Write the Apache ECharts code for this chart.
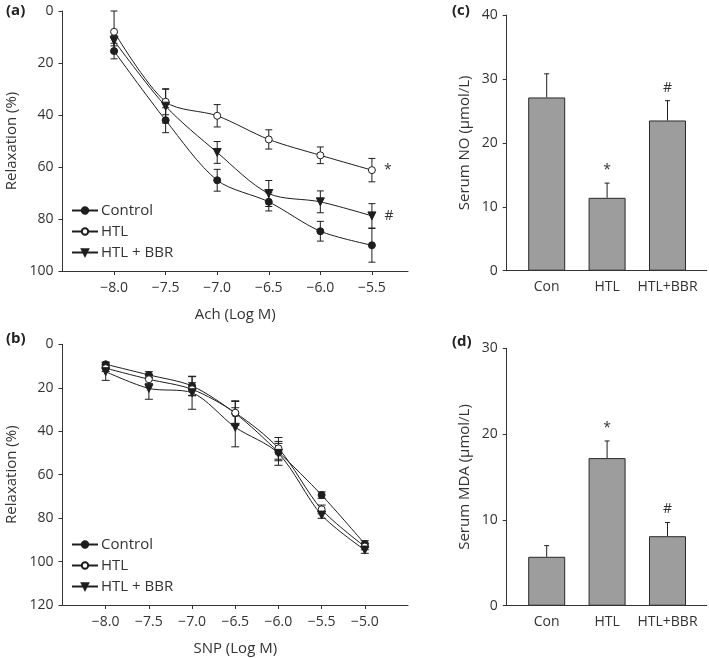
<!DOCTYPE html>
<html><head><meta charset="utf-8">
<script src="https://cdn.jsdelivr.net/npm/echarts@6/dist/echarts.min.js"></script>
<style>html,body{margin:0;padding:0;background:#fff}#c{width:709px;height:658px}</style>
</head><body><div id="c"></div>
<script>
// ---- Data ----
const seriesNames = ['Control', 'HTL', 'HTL + BBR'];

const achDoses = [-8.0, -7.5, -7.0, -6.5, -6.0, -5.5];
const achControl = [15.4, 42.0, 65.1, 73.4, 84.7, 90.1];
const achControlErr = [3.0, 4.8, 4.2, 3.5, 3.8, 6.5];
const achHTL = [8.0, 34.9, 40.3, 49.4, 55.5, 61.2];
const achHTLErr = [8.0, 5.0, 4.3, 3.7, 3.2, 4.5];
const achBBR = [11.4, 36.6, 54.4, 70.2, 73.4, 78.8];
const achBBRErr = [2.0, 6.5, 4.2, 5.0, 4.2, 4.7];
const achEndMarks = ['', '*', '#'];

const snpDoses = [-8.0, -7.5, -7.0, -6.5, -6.0, -5.5, -5.0];
const snpControl = [9.2, 14.1, 19.2, 31.8, 49.6, 69.4, 91.9];
const snpControlErr = [1.0, 1.5, 4.3, 5.5, 4.0, 1.5, 1.5];
const snpHTL = [11.0, 16.1, 20.7, 31.5, 47.9, 76.0, 93.1];
const snpHTLErr = [1.5, 2.0, 3.0, 5.5, 5.0, 2.0, 1.5];
const snpBBR = [12.6, 20.3, 22.3, 38.2, 50.2, 78.6, 94.7];
const snpBBRErr = [4.0, 5.0, 7.6, 9.0, 5.5, 1.5, 1.5];

const groups = ['Con', 'HTL', 'HTL+BBR'];
const noValues = [27.1, 11.4, 23.5];
const noErr = [3.7, 2.3, 3.1];
const noMarks = ['', '*', '#'];
const mdaValues = [5.7, 17.2, 8.1];
const mdaErr = [1.3, 2.0, 1.6];
const mdaMarks = ['', '*', '#'];

// ---- Style ----
const FONT = 'Open Sans';
const TXT = '#333';
const INK = '#1e1e1e';

function fmtDose(v) { return (v < 0 ? '\u2212' : '') + Math.abs(v).toFixed(1); }

const symbolStyles = [
  { symbol: 'circle', symbolSize: 7, itemStyle: { color: INK, borderColor: INK, borderWidth: 1 } },
  { symbol: 'circle', symbolSize: 7, itemStyle: { color: '#fff', borderColor: INK, borderWidth: 1 } },
  { symbol: 'triangle', symbolSize: 8, symbolRotate: 180, itemStyle: { color: INK, borderColor: INK, borderWidth: 1 } }
];

function lineSeries(idx, gi, xs, ys, mark) {
  const s = symbolStyles[idx];
  return Object.assign({
    type: 'line', name: seriesNames[idx], xAxisIndex: gi, yAxisIndex: gi,
    smooth: 0.3, z: 3, animation: false,
    lineStyle: { color: INK, width: 1 },
    data: xs.map((x, i) => {
      const d = { value: [x, ys[i]] };
      if (i === xs.length - 1 && mark) {
        d.label = { show: true, formatter: mark, position: 'right', distance: 8,
          color: TXT, fontSize: 14, fontFamily: FONT };
      }
      return d;
    })
  }, s);
}

function errSeries(gi, xs, ys, es, capHalf) {
  return {
    type: 'custom', xAxisIndex: gi, yAxisIndex: gi, silent: true, z: 2, animation: false,
    data: xs.map((x, i) => [x, ys[i] - es[i], ys[i] + es[i]]),
    encode: { x: 0, y: [1, 2] },
    renderItem(params, api) {
      const lo = api.coord([api.value(0), api.value(1)]);
      const hi = api.coord([api.value(0), api.value(2)]);
      const st = { stroke: INK, lineWidth: 1 };
      return { type: 'group', children: [
        { type: 'line', shape: { x1: lo[0], y1: lo[1], x2: hi[0], y2: hi[1] }, style: st },
        { type: 'line', shape: { x1: lo[0] - capHalf, y1: lo[1], x2: lo[0] + capHalf, y2: lo[1] }, style: st },
        { type: 'line', shape: { x1: hi[0] - capHalf, y1: hi[1], x2: hi[0] + capHalf, y2: hi[1] }, style: st }
      ]};
    }
  };
}

function barSeries(gi, vals) {
  return {
    type: 'bar', xAxisIndex: gi, yAxisIndex: gi, barWidth: 37, z: 2, animation: false,
    itemStyle: { color: '#9d9d9d', borderColor: '#2a2a2a', borderWidth: 1 },
    data: vals.map((v, i) => [i, v])
  };
}

function barErrSeries(gi, vals, errs, marks) {
  return {
    type: 'custom', xAxisIndex: gi, yAxisIndex: gi, silent: true, z: 3, animation: false,
    data: vals.map((v, i) => [i, v, v + errs[i], i]),
    encode: { x: 0, y: [1, 2] },
    renderItem(params, api) {
      const lo = api.coord([api.value(0), api.value(1)]);
      const hi = api.coord([api.value(0), api.value(2)]);
      const st = { stroke: INK, lineWidth: 1 };
      const m = marks[api.value(3)];
      const ch = [
        { type: 'line', shape: { x1: lo[0], y1: lo[1], x2: hi[0], y2: hi[1] }, style: st },
        { type: 'line', shape: { x1: hi[0] - 2.5, y1: hi[1], x2: hi[0] + 2.5, y2: hi[1] }, style: st }
      ];
      if (m) ch.push({ type: 'text', x: hi[0], y: hi[1] - 6,
        style: { text: m, fill: TXT, font: '14px "' + FONT + '"', align: 'center', verticalAlign: 'bottom' } });
      return { type: 'group', children: ch };
    }
  };
}

const axisLineStyle = { color: '#333', width: 1 };
const labelStyle = { color: TXT, fontSize: 14, fontFamily: FONT };
const nameStyle = { color: TXT, fontSize: 15, fontFamily: FONT };

function doseXAxis(gi, min, max, doses, name) {
  return {
    type: 'value', gridIndex: gi, min: min, max: max,
    axisLine: { show: true, onZero: false, lineStyle: axisLineStyle },
    splitLine: { show: false },
    axisTick: { show: true, customValues: doses, length: 4, lineStyle: axisLineStyle },
    axisLabel: Object.assign({ customValues: doses, formatter: fmtDose, margin: 10 }, labelStyle),
    name: name, nameLocation: 'middle', nameGap: 36, nameTextStyle: nameStyle
  };
}
function relaxYAxis(gi, max) {
  return {
    type: 'value', gridIndex: gi, inverse: true, min: 0, max: max, interval: 20,
    axisLine: { show: true, onZero: false, lineStyle: axisLineStyle },
    splitLine: { show: false },
    axisTick: { show: true, length: 4, lineStyle: axisLineStyle },
    axisLabel: Object.assign({ margin: 9 }, labelStyle),
    name: 'Relaxation (%)', nameLocation: 'middle', nameGap: 43, nameTextStyle: nameStyle
  };
}
function groupXAxis(gi) {
  return {
    type: 'value', gridIndex: gi, min: -0.662, max: 2.649,
    axisLine: { show: true, onZero: false, lineStyle: axisLineStyle },
    splitLine: { show: false },
    axisTick: { show: false },
    axisLabel: Object.assign({ customValues: groups.map((g, i) => i), formatter: v => groups[Math.round(v)], margin: 9 }, labelStyle)
  };
}
function barYAxis(gi, max, name) {
  return {
    type: 'value', gridIndex: gi, min: 0, max: max, interval: 10,
    axisLine: { show: true, onZero: false, lineStyle: axisLineStyle },
    splitLine: { show: false },
    axisTick: { show: true, length: 4, lineStyle: axisLineStyle },
    axisLabel: Object.assign({ margin: 9 }, labelStyle),
    name: name, nameLocation: 'middle', nameGap: 34, nameTextStyle: nameStyle
  };
}

function legendAt(top) {
  return {
    data: seriesNames, orient: 'vertical', left: 71, top: top, padding: 0,
    itemWidth: 26, itemHeight: 8, itemGap: 6, selectedMode: false,
    textStyle: { color: TXT, fontSize: 15, fontFamily: FONT, padding: [0, 0, 0, -2] }
  };
}

const option = {
  animation: false,
  backgroundColor: '#fff',
  textStyle: { fontFamily: FONT },
  grid: [
    { left: 62.5, top: 11, width: 345.5, height: 260 },
    { left: 62.5, top: 344.3, width: 345.5, height: 260.7 },
    { left: 506.7, top: 15, width: 200, height: 255.7 },
    { left: 506.7, top: 348.3, width: 200, height: 257.4 }
  ],
  xAxis: [
    doseXAxis(0, -8.5, -5.15, achDoses, 'Ach (Log M)'),
    doseXAxis(1, -8.5, -4.5, snpDoses, 'SNP (Log M)'),
    groupXAxis(2),
    groupXAxis(3)
  ],
  yAxis: [
    relaxYAxis(0, 100),
    relaxYAxis(1, 120),
    barYAxis(2, 40, 'Serum NO (\u03bcmol/L)'),
    barYAxis(3, 30, 'Serum MDA (\u03bcmol/L)')
  ],
  legend: [legendAt(203), legendAt(537)],
  graphic: [
    { type: 'text', left: 6, top: 3, style: { text: '(a)', font: 'bold 15px "' + FONT + '"', fill: '#222' } },
    { type: 'text', left: 6, top: 331, style: { text: '(b)', font: 'bold 15px "' + FONT + '"', fill: '#222' } },
    { type: 'text', left: 452, top: 3, style: { text: '(c)', font: 'bold 15px "' + FONT + '"', fill: '#222' } },
    { type: 'text', left: 452, top: 334, style: { text: '(d)', font: 'bold 15px "' + FONT + '"', fill: '#222' } }
  ],
  series: [
    errSeries(0, achDoses, achControl, achControlErr, 3.5),
    errSeries(0, achDoses, achHTL, achHTLErr, 3.5),
    errSeries(0, achDoses, achBBR, achBBRErr, 3.5),
    lineSeries(0, 0, achDoses, achControl, achEndMarks[0]),
    lineSeries(1, 0, achDoses, achHTL, achEndMarks[1]),
    lineSeries(2, 0, achDoses, achBBR, achEndMarks[2]),
    errSeries(1, snpDoses, snpControl, snpControlErr, 4),
    errSeries(1, snpDoses, snpHTL, snpHTLErr, 4),
    errSeries(1, snpDoses, snpBBR, snpBBRErr, 4),
    lineSeries(0, 1, snpDoses, snpControl, ''),
    lineSeries(1, 1, snpDoses, snpHTL, ''),
    lineSeries(2, 1, snpDoses, snpBBR, ''),
    barSeries(2, noValues),
    barErrSeries(2, noValues, noErr, noMarks),
    barSeries(3, mdaValues),
    barErrSeries(3, mdaValues, mdaErr, mdaMarks)
  ]
};

const chart = echarts.init(document.getElementById('c'), null, { renderer: 'canvas' });
chart.setOption(option);
</script>
</body></html>
